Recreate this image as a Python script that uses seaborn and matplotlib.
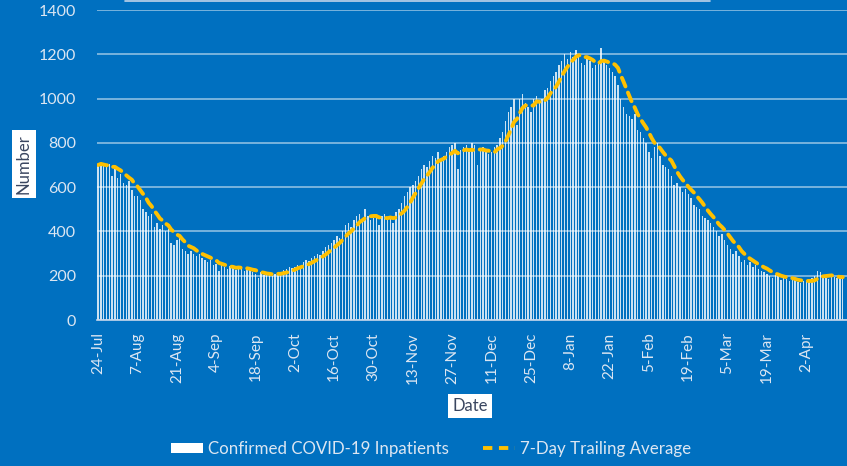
import numpy as np
import pandas as pd
import matplotlib
matplotlib.use('Agg')
import matplotlib.pyplot as plt
from matplotlib.patches import Patch
from matplotlib.lines import Line2D
import seaborn as sns

# daily confirmed inpatients, 24-Jul-2020 .. 15-Apr-2021 (14 days per row)
inpatients = [
    700, 710, 695, 690, 705, 650, 690, 640, 660, 620, 610, 630, 585, 560,        # 24-Jul
    560, 540, 500, 490, 470, 480, 420, 440, 410, 430, 400, 410, 350, 340,        # 7-Aug
    360, 370, 320, 310, 300, 310, 300, 290, 300, 280, 270, 260, 270, 250,        # 21-Aug
    255, 220, 250, 240, 230, 245, 240, 225, 230, 240, 220, 235, 225, 215,        # 4-Sep
    210, 190, 215, 205, 210, 215, 200, 210, 205, 215, 225, 230, 240, 235,        # 18-Sep
    240, 250, 245, 260, 270, 265, 280, 290, 300, 295, 310, 330, 340, 350,        # 2-Oct
    360, 380, 370, 400, 430, 440, 420, 450, 470, 480, 460, 500, 470, 450,        # 16-Oct
    460, 470, 430, 470, 480, 460, 470, 440, 490, 500, 530, 560, 580, 600,        # 30-Oct
    610, 630, 650, 680, 700, 690, 720, 740, 730, 760, 720, 740, 760, 780,        # 13-Nov
    790, 800, 680, 770, 780, 790, 760, 800, 790, 700, 770, 780, 760, 750,        # 27-Nov
    760, 780, 790, 820, 850, 900, 940, 960, 1000, 880, 1000, 1020, 980, 960,     # 11-Dec
    940, 1000, 1010, 990, 1000, 1040, 1050, 1080, 1100, 1120, 1150, 1170, 1200, 1180,  # 25-Dec
    1210, 1190, 1220, 1200, 1160, 1150, 1180, 1170, 1140, 1150, 1160, 1230, 1170, 1150,  # 8-Jan
    1140, 1120, 1100, 1060, 1000, 960, 930, 920, 910, 930, 860, 850, 820, 800,   # 22-Jan
    760, 730, 780, 800, 740, 700, 690, 680, 650, 610, 620, 600, 580, 590,        # 5-Feb
    570, 550, 520, 510, 500, 470, 460, 450, 440, 420, 400, 380, 390, 360,        # 19-Feb
    340, 320, 300, 310, 290, 260, 270, 250, 260, 240, 250, 230, 220, 215,        # 5-Mar
    210, 200, 190, 205, 200, 180, 190, 185, 175, 190, 180, 170, 165, 175,        # 19-Mar
    180, 175, 190, 200, 220, 215, 200, 190, 185, 200, 195, 190, 200, 195,        # 2-Apr
]
tick_labels = ['24-Jul', '7-Aug', '21-Aug', '4-Sep', '18-Sep', '2-Oct', '16-Oct', '30-Oct',
               '13-Nov', '27-Nov', '11-Dec', '25-Dec', '8-Jan', '22-Jan', '5-Feb', '19-Feb',
               '5-Mar', '19-Mar', '2-Apr']

df = pd.DataFrame({'day': np.arange(len(inpatients)), 'inpatients': inpatients})
df['avg7'] = df['inpatients'].rolling(7, min_periods=1).mean()

bg = '#0070C0'
light = '#DCE6F2'
yellow = '#FFC000'

sns.set_style('white')
plt.rcParams['font.family'] = ['Lato', 'DejaVu Sans']

fig = plt.figure(figsize=(8.47, 4.66), dpi=100, facecolor=bg)
ax = fig.add_axes([97 / 847, 146 / 466, 1 - 97 / 847, 310 / 466])
ax.set_facecolor(bg)

sns.barplot(data=df, x='day', y='inpatients', native_scale=True, width=0.5,
            color='white', alpha=0.8, linewidth=0, ax=ax)
sns.lineplot(data=df, x='day', y='avg7', color=yellow, lw=2.8, ax=ax)
ax.lines[-1].set_dashes((2.4, 1.7))
ax.lines[-1].set_dash_capstyle('round')

ax.set_ylim(0, 1400)
ax.set_yticks(range(0, 1401, 200))
ax.set_xlim(-0.4, 266.5)
ax.set_xticks(range(0, 14 * len(tick_labels), 14))
ax.set_xticklabels(tick_labels, rotation=90)
ax.grid(axis='y', color='white', alpha=0.55, lw=1.2)
ax.set_axisbelow(True)
for s in ['top', 'right', 'left']:
    ax.spines[s].set_visible(False)
ax.spines['bottom'].set_color('#C8D8EC')
ax.spines['bottom'].set_linewidth(1.2)
ax.tick_params(axis='x', colors=light, labelsize=11, length=5, width=1.2, color='#C8D8EC', pad=4)
ax.tick_params(axis='y', colors=light, labelsize=11.5, length=0, pad=15)

box = dict(boxstyle='square,pad=0.25', fc='white', ec='none')
ax.set_xlabel('')
ax.set_ylabel('')
fig.text(24 / 847, 1 - 164 / 466, 'Number', rotation=90, ha='center', va='center',
         fontsize=12, color='#3A4660', bbox=box)
fig.text(470 / 847, 1 - 406 / 466, 'Date', ha='center', va='center',
         fontsize=12, color='#3A4660', bbox=box)

# bottom edge of the title box above the chart
fig.add_artist(Line2D([125 / 847, 710 / 847], [1 - 1 / 466, 1 - 1 / 466],
                      color='#BFD3EA', lw=1.2, transform=fig.transFigure))

handles = [Patch(facecolor='white', edgecolor='none'),
           Line2D([], [], color=yellow, lw=2.8, dashes=(2.4, 1.7))]
leg = fig.legend(handles, ['Confirmed COVID-19 Inpatients', '7-Day Trailing Average'],
                 loc='center', bbox_to_anchor=(431 / 847, 1 - 449 / 466), ncol=2,
                 frameon=False, fontsize=12.2, handlelength=1.9, handleheight=0.6,
                 handletextpad=0.3, columnspacing=2.0)
for t in leg.get_texts():
    t.set_color(light)

fig.savefig('out.png', dpi=100, facecolor=bg)
